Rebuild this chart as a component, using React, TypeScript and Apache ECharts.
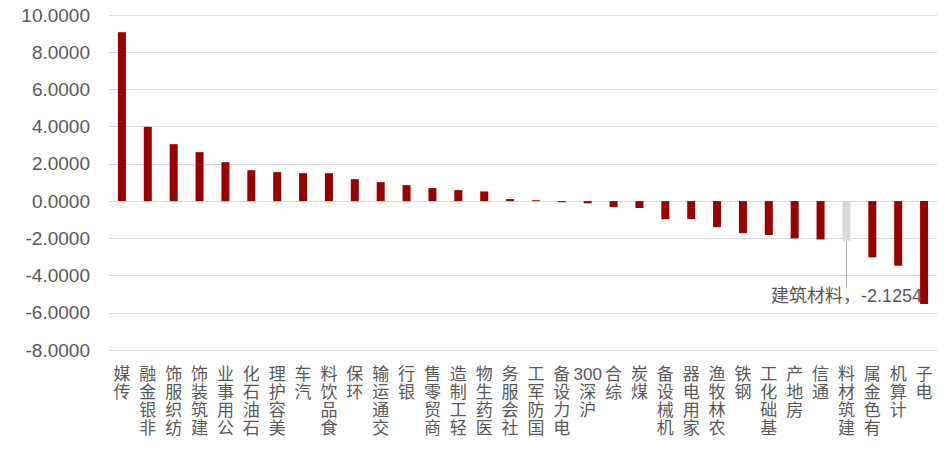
import React, { useEffect, useRef } from "react";
import * as echarts from "echarts";

const categories = [
  "传媒", "非银金融", "纺织服饰", "建筑装饰", "公用事业", "石油石化", "美容护理", "汽车",
  "食品饮料", "环保", "交通运输", "银行", "商贸零售", "轻工制造", "医药生物", "社会服务",
  "国防军工", "电力设备", "沪深300", "综合", "煤炭", "机械设备", "家用电器", "农林牧渔",
  "钢铁", "基础化工", "房地产", "通信", "建筑材料", "有色金属", "计算机", "电子",
];

const values = [
  9.07, 3.99, 3.06, 2.63, 2.09, 1.66, 1.56, 1.5,
  1.5, 1.18, 1.02, 0.86, 0.7, 0.59, 0.52, 0.11,
  0.05, -0.06, -0.12, -0.32, -0.37, -0.97, -0.96, -1.4,
  -1.72, -1.82, -2.0, -2.06, -2.1254, -3.02, -3.47, -5.53,
];

const highlightName = "建筑材料";

const yMin = -8;
const yMax = 10;
const yInterval = 2;

const FONT = "'Liberation Sans', 'Noto Sans CJK SC', sans-serif";

function stackLabel(name: string): string {
  const tokens = name.match(/[0-9]+|./g) || [];
  return tokens.slice().reverse().join("\n");
}

export default function App() {
  const ref = useRef<HTMLDivElement>(null);

  useEffect(() => {
    if (!ref.current) return;
    const chart = echarts.init(ref.current, undefined, { renderer: "svg" });
    const hiIndex = categories.indexOf(highlightName);
    const data = values.map((v, i) => {
      if (i === hiIndex) {
        return {
          value: v,
          itemStyle: { color: "#d9d9d9" },
          label: {
            show: true,
            position: "bottom",
            distance: 4,
            formatter: (p: any) => `${p.name}，${p.value}`,
            fontSize: 18,
            fontFamily: FONT,
            color: "#595959",
          },
          labelLine: { show: true, lineStyle: { color: "#a6a6a6", width: 1 } },
        };
      }
      return v;
    });
    chart.setOption({
      animation: false,
      grid: { left: 109, right: 15, top: 15, bottom: 102 },
      xAxis: {
        type: "category",
        data: categories,
        axisLine: { show: false, onZero: false },
        axisTick: { show: false },
        axisLabel: {
          interval: 0,
          margin: 15,
          fontSize: 17,
          lineHeight: 18,
          color: "#595959",
          fontFamily: FONT,
          verticalAlign: "top",
          formatter: (v: string) => stackLabel(v),
        },
      },
      yAxis: {
        type: "value",
        min: yMin,
        max: yMax,
        interval: yInterval,
        axisLine: { show: false },
        axisTick: { show: false },
        axisLabel: {
          margin: 19,
          fontSize: 19,
          color: "#595959",
          fontFamily: FONT,
          formatter: (v: number) => v.toFixed(4),
        },
        splitLine: { lineStyle: { color: "#d9d9d9", width: 1 } },
      },
      series: [
        {
          type: "bar",
          data,
          barWidth: 8,
          itemStyle: { color: "#990000" },
          labelLayout: (params: any) =>
            params.dataIndex === hiIndex ? { dy: 42 } : {},
        },
      ],
    });
    return () => chart.dispose();
  }, []);

  return (
    <div
      ref={ref}
      style={{ position: "absolute", left: 0, top: 0, width: 952, height: 452 }}
    />
  );
}
